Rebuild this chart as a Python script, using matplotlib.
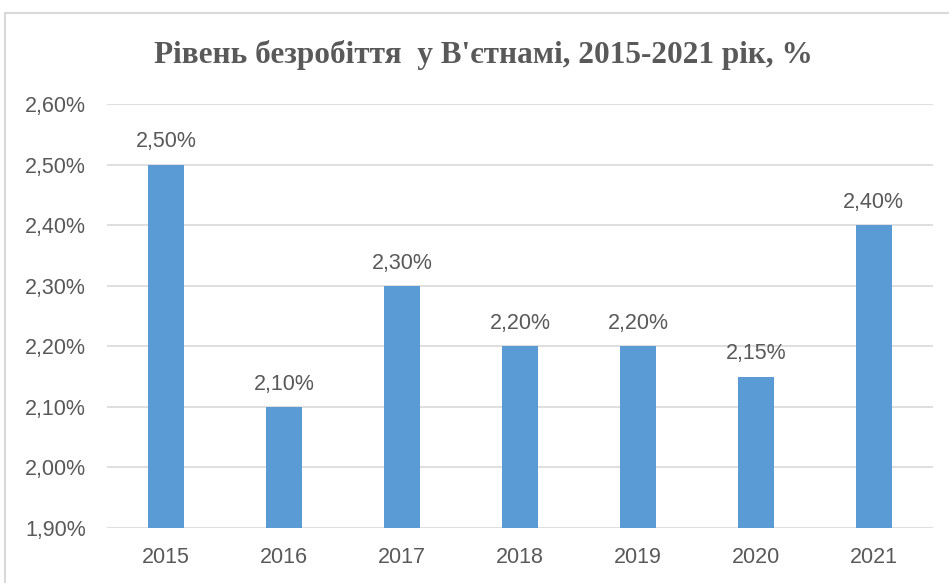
import numpy as np
import matplotlib.pyplot as plt
from matplotlib.patches import Rectangle

years = ["2015", "2016", "2017", "2018", "2019", "2020", "2021"]
rates = [2.50, 2.10, 2.30, 2.20, 2.20, 2.15, 2.40]
labels = ["2,50%", "2,10%", "2,30%", "2,20%", "2,20%", "2,15%", "2,40%"]
yticks = [1.90, 2.00, 2.10, 2.20, 2.30, 2.40, 2.50, 2.60]

grey = "#595959"
fig = plt.figure(figsize=(9.49, 5.83), dpi=100)
ax = fig.add_axes([0.1127, 0.0943, 0.8703, 0.7273])

x = np.arange(len(years))
ax.bar(x, rates, width=0.31, color="#5B9BD5", zorder=3)
for xi, v, lab in zip(x, rates, labels):
    ax.text(xi, v + 0.02, lab, ha="center", va="bottom",
            fontsize=15.5, color=grey, family="Liberation Sans")

ax.set_xlim(-0.5, 6.5)
ax.set_ylim(1.90, 2.60)
ax.set_yticks(yticks)
ax.set_yticklabels([("%.2f%%" % t).replace(".", ",") for t in yticks],
                   fontsize=15.5, color=grey, family="Liberation Sans")
ax.set_xticks(x)
ax.set_xticklabels(years, fontsize=15.5, color=grey, family="Liberation Sans")
ax.tick_params(length=0)
ax.tick_params(axis="x", pad=14)
ax.tick_params(axis="y", pad=15)
ax.grid(axis="y", color="#D9D9D9", lw=1.2, zorder=0)
for s in ax.spines.values():
    s.set_visible(False)

fig.text(0.5095, 0.905, "Рівень безробіття  у В'єтнамі, 2015-2021 рік, %",
         ha="center", va="center", fontsize=22.5, fontweight="bold",
         color=grey, family="Liberation Serif")

fig.patches.append(Rectangle((5 / 949, -0.1), 1.2, 1 - 13 / 583 + 0.1,
                             transform=fig.transFigure, fill=False,
                             edgecolor="#D9D9D9", lw=1.5))

fig.savefig("out.png", dpi=100)
